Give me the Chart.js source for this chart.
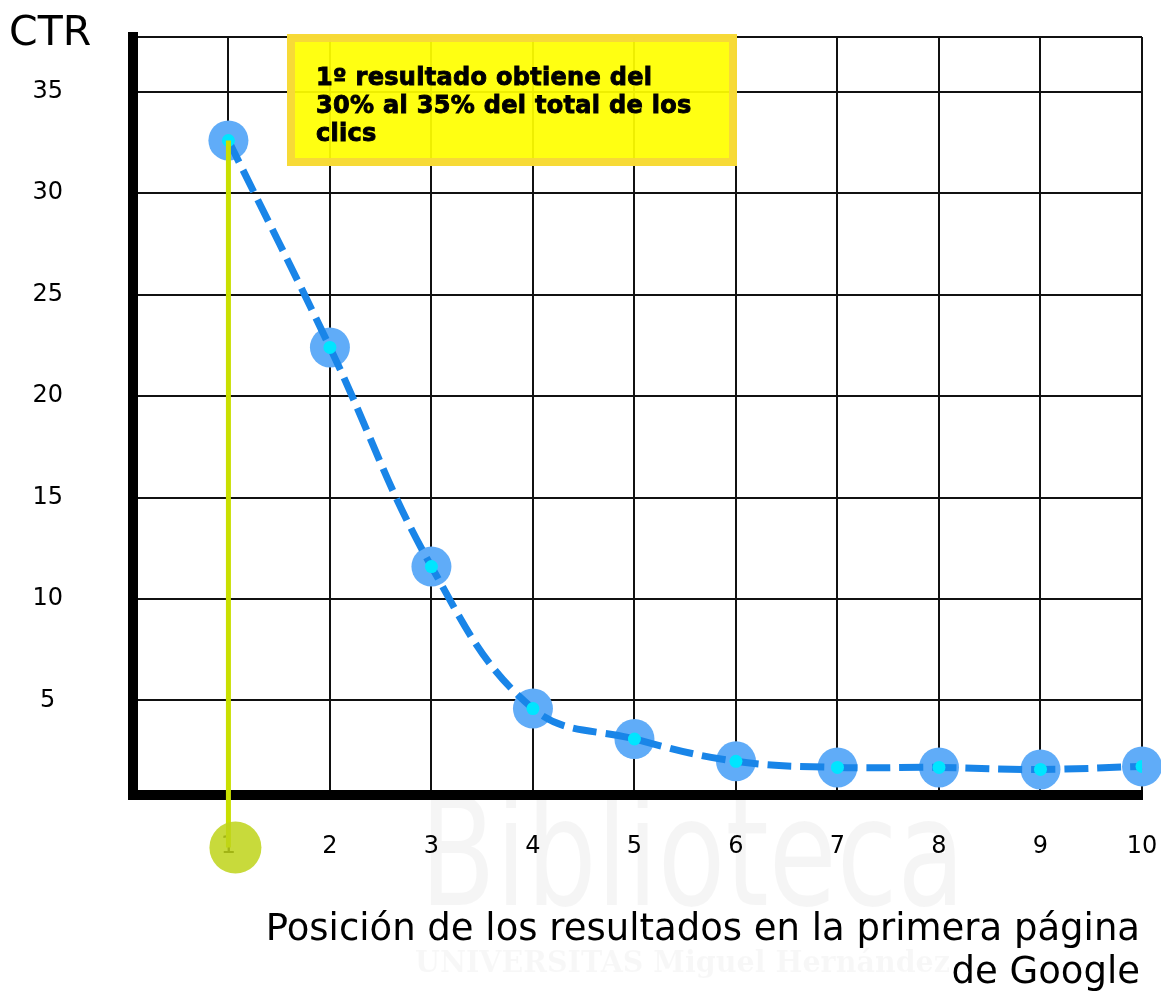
<!DOCTYPE html>
<html>
<head>
<meta charset="utf-8">
<script src="https://cdn.jsdelivr.net/npm/chart.js@4.4.1/dist/chart.umd.min.js"></script>
<style>
  html, body { margin: 0; padding: 0; background: #fff; }
  #wrap { width: 1161px; height: 992px; }
</style>
</head>
<body>
<div id="wrap"><canvas id="ctr-chart" width="1161" height="992"></canvas></div>
<script>
// posiciones en la primera página y su CTR (%)
const positions = [1, 2, 3, 4, 5, 6, 7, 8, 9, 10];
const ctrValues = [32.6, 22.4, 11.6, 4.6, 3.1, 2.0, 1.7, 1.7, 1.6, 1.75];
const yTickLabels = [5, 10, 15, 20, 25, 30, 35];
const xTickLabels = [1, 2, 3, 4, 5, 6, 7, 8, 9, 10];
const markerDrop = -2.25; // círculo verde bajo el eje, sobre la posición 1

const noteLines = ['1º resultado obtiene del', '30% al 35% del total de los', 'clics'];
const yTitle = 'CTR';
const xTitleLines = ['Posición de los resultados en la primera página', 'de Google'];

const colors = {
    grid: '#111111',
    axis: '#000000',
    lineBlue: '#1985e8',
    dotBlue: '#60acf8',
    dotCyan: '#00e5ff',
    marker: '#c9df00',
    markerDot: 'rgba(190, 212, 25, 0.85)',
    noteFill: 'rgba(255, 255, 0, 0.93)',
    noteEdge: 'rgba(246, 214, 60, 0.9)'
};

const pts = positions.map((p, i) => ({ x: p, y: ctrValues[i] }));

// fondo blanco + marca de agua tenue
const backgroundPlugin = {
    id: 'background',
    beforeDraw(chart) {
        const ctx = chart.ctx;
        ctx.save();
        ctx.fillStyle = '#ffffff';
        ctx.fillRect(0, 0, chart.width, chart.height);
        ctx.fillStyle = 'rgba(0, 0, 0, 0.04)';
        ctx.textBaseline = 'alphabetic';
        ctx.font = '150px "DejaVu Sans"';
        ctx.fillText('Biblioteca', 420, 905, 545);
        ctx.font = 'bold 30px "DejaVu Serif"';
        ctx.fillStyle = 'rgba(0, 0, 0, 0.03)';
        ctx.fillText('UNIVERSITAS Miguel Hernández', 415, 972, 535);
        ctx.restore();
    }
};

// círculo verde bajo la posición 1 (fuera del área, se dibuja con las escalas)
const markerPlugin = {
    id: 'marker',
    afterDatasetsDraw(chart) {
        const { ctx, scales } = chart;
        const x = scales.x.getPixelForValue(positions[0]);
        const y = scales.y.getPixelForValue(markerDrop);
        ctx.save();
        ctx.fillStyle = colors.markerDot;
        ctx.beginPath();
        ctx.arc(x + 7, y, 26, 0, Math.PI * 2);
        ctx.fill();
        ctx.restore();
    }
};

// textos: CTR, título del eje X y el recuadro amarillo
const textPlugin = {
    id: 'texts',
    afterDraw(chart) {
        const ctx = chart.ctx;
        ctx.save();
        ctx.fillStyle = '#000';
        ctx.textBaseline = 'alphabetic';
        ctx.font = '41px "DejaVu Sans"';
        ctx.textAlign = 'left';
        ctx.fillText(yTitle, 9, 45);

        ctx.font = '37px "DejaVu Sans"';
        ctx.textAlign = 'right';
        ctx.fillText(xTitleLines[0], 1140, 940);
        ctx.fillText(xTitleLines[1], 1140, 983);

        // recuadro amarillo
        const bx = 287, by = 34, bw = 450, bh = 132;
        ctx.fillStyle = colors.noteFill;
        ctx.fillRect(bx, by, bw, bh);
        ctx.strokeStyle = colors.noteEdge;
        ctx.lineWidth = 8;
        ctx.strokeRect(bx + 4, by + 4, bw - 8, bh - 8);

        ctx.fillStyle = '#000';
        ctx.strokeStyle = '#000';
        ctx.lineWidth = 0.9;
        ctx.textAlign = 'left';
        ctx.font = 'bold 24px "DejaVu Sans"';
        ctx.letterSpacing = '0.3px';
        noteLines.forEach((t, i) => {
            ctx.fillText(t, 316, 85 + i * 27.8);
            ctx.strokeText(t, 316, 85 + i * 27.8);
        });
        ctx.restore();
    }
};

const ctx = document.getElementById('ctr-chart').getContext('2d');

new Chart(ctx, {
    type: 'line',
    data: {
        datasets: [
            {
                // línea verde-amarilla desde el 1º resultado
                data: [{ x: positions[0], y: ctrValues[0] }, { x: positions[0], y: markerDrop }],
                borderColor: colors.marker,
                borderWidth: 5,
                tension: 0,
                pointRadius: 0,
                clip: false,
                order: 0
            },
            {
                data: pts,
                showLine: false,
                pointRadius: 6.5,
                pointBackgroundColor: colors.dotCyan,
                pointBorderWidth: 0,
                order: 1
            },
            {
                data: pts,
                borderColor: colors.lineBlue,
                borderWidth: 7,
                borderDash: [24, 9],
                tension: 0.4,
                pointRadius: 0,
                fill: false,
                clip: false,
                order: 2
            },
            {
                data: pts,
                showLine: false,
                pointRadius: 20,
                pointBackgroundColor: colors.dotBlue,
                pointBorderWidth: 0,
                clip: false,
                order: 3
            }
        ]
    },
    options: {
        responsive: false,
        animation: false,
        events: [],
        layout: { autoPadding: false, padding: { top: 37, right: 19, left: 0, bottom: 0 } },
        plugins: {
            legend: { display: false },
            tooltip: { enabled: false }
        },
        scales: {
            x: {
                type: 'linear',
                min: 0.06,
                max: 10,
                afterFit(scale) {
                    scale.height = 197;
                    scale.paddingLeft = 0;
                    scale.paddingRight = 0;
                },
                afterBuildTicks(scale) {
                    scale.ticks = xTickLabels.map(v => ({ value: v }));
                },
                ticks: {
                    color: '#000',
                    padding: 37,
                    maxRotation: 0,
                    autoSkip: false,
                    font: { size: 24, family: '"DejaVu Sans"' },
                    callback: v => String(v)
                },
                grid: {
                    color: colors.grid,
                    lineWidth: 2,
                    drawTicks: false
                },
                border: { display: true, color: colors.axis, width: 10 }
            },
            y: {
                type: 'linear',
                min: 0.34,
                max: 37.7,
                afterFit(scale) {
                    scale.width = 133;
                    scale.paddingTop = 0;
                    scale.paddingBottom = 0;
                },
                afterBuildTicks(scale) {
                    scale.ticks = yTickLabels.map(v => ({ value: v })).concat([{ value: scale.max }]);
                },
                ticks: {
                    color: '#000',
                    padding: 70,
                    crossAlign: 'center',
                    font: { size: 24, family: '"DejaVu Sans"' },
                    callback: v => (yTickLabels.includes(v) ? String(v) : '')
                },
                grid: {
                    color: colors.grid,
                    lineWidth: 2,
                    drawTicks: false
                },
                border: { display: true, color: colors.axis, width: 10 }
            }
        }
    },
    plugins: [backgroundPlugin, markerPlugin, textPlugin]
});
</script>
</body>
</html>
